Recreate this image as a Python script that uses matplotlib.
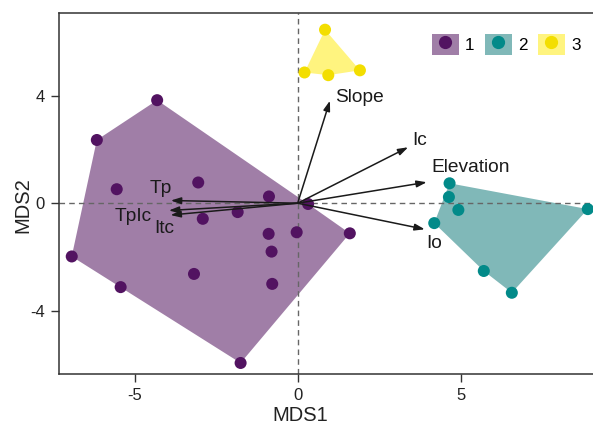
import numpy as np
import matplotlib
matplotlib.use("Agg")
import matplotlib.pyplot as plt
from matplotlib.patches import Polygon, Patch
from matplotlib.lines import Line2D

plt.rcParams['font.family'] = ['Liberation Sans', 'DejaVu Sans']
plt.rcParams['axes.unicode_minus'] = False

# ---- data ----
g1_x = [-4.31, -6.16, -5.55, -3.05, -0.88, -1.84, -2.91, 0.32, -0.89, -0.80, -0.03, 1.60, -6.93, -3.18, -0.78, -5.43, -1.75]
g1_y = [3.83, 2.35, 0.52, 0.77, 0.25, -0.33, -0.58, -0.03, -1.14, -1.80, -1.08, -1.12, -1.98, -2.63, -3.00, -3.12, -5.94]
g2_x = [4.66, 4.64, 4.93, 4.19, 8.90, 5.71, 6.57]
g2_y = [0.74, 0.23, -0.25, -0.74, -0.22, -2.52, -3.33]
g3_x = [0.84, 0.21, 0.94, 1.91]
g3_y = [6.45, 4.86, 4.76, 4.94]
groups = ["1", "2", "3"]

arrow_names = ["Slope", "Ic", "Elevation", "Io", "Tp", "TpIc", "Itc"]
arrow_x = [0.99, 3.39, 3.96, 3.90, -3.89, -3.95, -3.90]
arrow_y = [3.81, 2.08, 0.78, -0.97, 0.10, -0.27, -0.44]
label_x = [1.91, 3.73, 5.32, 4.18, -4.20, -5.04, -4.10]
label_y = [3.93, 2.33, 1.31, -1.50, 0.55, -0.48, -0.94]

x_ticks = [-5, 0, 5]
y_ticks = [-4, 0, 4]

pt_colors = ["#521361", "#028A89", "#F3DE00"]
hull_colors = ["#A07EA7", "#80B8B8", "#FFF47F"]


def convex_hull(xs, ys):
    pts = sorted(set(zip(xs, ys)))
    def cross(o, a, b):
        return (a[0]-o[0])*(b[1]-o[1]) - (a[1]-o[1])*(b[0]-o[0])
    lower, upper = [], []
    for p in pts:
        while len(lower) >= 2 and cross(lower[-2], lower[-1], p) <= 0:
            lower.pop()
        lower.append(p)
    for p in reversed(pts):
        while len(upper) >= 2 and cross(upper[-2], upper[-1], p) <= 0:
            upper.pop()
        upper.append(p)
    return lower[:-1] + upper[:-1]


fig = plt.figure(figsize=(5.93, 4.25), dpi=100)
ax = fig.add_axes([58.7/593, 51/425, 1 - 58.7/593, (374-13.3)/425])
ax.set_xlim(-7.33, 9.06)
ax.set_ylim(-6.35, 7.06)

data = [(g1_x, g1_y), (g2_x, g2_y), (g3_x, g3_y)]
for (xs, ys), hc in zip(data, hull_colors):
    hull = convex_hull(xs, ys)
    ax.add_patch(Polygon(hull, closed=True, facecolor=hc, edgecolor='none', zorder=1))

ax.axhline(0, color='#666666', ls=(0, (4, 3)), lw=1, zorder=2)
ax.axvline(0, color='#666666', ls=(0, (4, 3)), lw=1, zorder=2)

for (xs, ys), pc in zip(data, pt_colors):
    ax.scatter(xs, ys, s=75, color=pc, edgecolors='none', zorder=3)

for name, ax_, ay_, lx, ly in zip(arrow_names, arrow_x, arrow_y, label_x, label_y):
    ax.annotate("", xy=(ax_, ay_), xytext=(0, 0),
                arrowprops=dict(arrowstyle='-|>,head_length=0.6,head_width=0.2',
                                color='#1a1a1a', lw=1.1, shrinkA=0, shrinkB=0),
                zorder=4)
    ax.text(lx, ly, name, ha='center', va='center', fontsize=13.8, color='#1a1a1a', zorder=5)

ax.set_xticks(x_ticks)
ax.set_yticks(y_ticks)
ax.tick_params(axis='both', direction='out', length=5.8, width=1, color='#333333',
               labelsize=12, labelcolor='#222222', pad=4)
for s in ['left', 'bottom', 'top']:
    ax.spines[s].set_color('#333333')
    ax.spines[s].set_linewidth(1.1)
ax.spines['right'].set_visible(False)
ax.set_xlabel("MDS1", fontsize=14.5, color='#222222', va='top')
ax.set_ylabel("MDS2", fontsize=14.5, color='#222222', va='center')
ax.xaxis.set_label_coords((300 - 58.7) / (593 - 58.7), -(406 - 374) / (374 - 13.3))
ax.yaxis.set_label_coords(-(58.7 - 22.5) / (593 - 58.7), (374 - 205) / (374 - 13.3))

handles = []
for pc, hc in zip(pt_colors, hull_colors):
    handles.append((Patch(facecolor=hc, edgecolor='none'),
                    Line2D([], [], marker='o', ls='none', markersize=8.5, color=pc)))
leg = fig.legend(handles, groups, ncol=3, frameon=False, loc='upper left',
                 bbox_to_anchor=(431.7/593, 1 - 34/425), fontsize=12.3,
                 handlelength=1.6, handleheight=1.47, handletextpad=0.35,
                 columnspacing=0.6, borderpad=0, borderaxespad=0)

fig.savefig("out.png", dpi=100)
